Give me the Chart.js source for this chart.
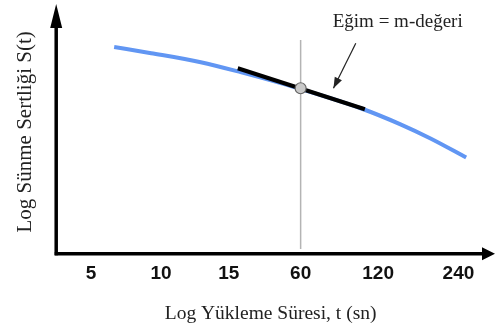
<!DOCTYPE html>
<html>
<head>
<meta charset="utf-8">
<script src="https://cdn.jsdelivr.net/npm/chart.js@4/dist/chart.umd.min.js"></script>
<style>
  html, body { margin: 0; padding: 0; background: #fff; }
  #wrap { width: 495px; height: 329px; }
</style>
</head>
<body>
<div id="wrap"><canvas id="creepChart"></canvas></div>
<script>
// Schematic log-log creep stiffness curve (x positions are schematic)
const xTickLabels = ['5', '10', '15', '60', '120', '240'];
const xTickPos = [0, 1, 1.97, 3, 4.11, 5.26];

const curveX = [0.33, 0.86, 1.57, 2.14, 3.0, 3.86, 4.43, 4.86, 5.37];
const curveY = [84.8, 82.3, 78.6, 74.5, 67.6, 59.7, 53.1, 47.3, 39.5];

const tangentX = [2.1, 3.92];
const tangentY = [76.1, 59.3];

const markX = [3];
const markY = [67.9];

const guideX = [3, 3];
const guideY = [2, 87.7];

const arrowX = [3.79, 3.47];
const arrowY = [86.4, 67.9];

const noteText = 'Eğim = m-değeri';
const notePos = [4.39, 95];

function pts(xs, ys) {
    return xs.map((x, i) => ({ x: x, y: ys[i] }));
}

// axes with arrow heads, note text, arrow head on the pointer line
const decorPlugin = {
    id: 'decor',
    afterDatasetsDraw(chart) {
        const ctx = chart.ctx;
        const a = chart.chartArea;
        const xs = chart.scales.x, ys = chart.scales.y;
        ctx.save();
        ctx.strokeStyle = '#000';
        ctx.fillStyle = '#000';
        ctx.lineWidth = 3.5;
        // y axis
        ctx.beginPath();
        ctx.moveTo(a.left, a.bottom + 1.5);
        ctx.lineTo(a.left, a.top + 10);
        ctx.stroke();
        ctx.beginPath();
        ctx.moveTo(a.left, a.top - 6);
        ctx.lineTo(a.left - 6, a.top + 18);
        ctx.lineTo(a.left + 6, a.top + 18);
        ctx.closePath();
        ctx.fill();
        // x axis
        ctx.beginPath();
        ctx.moveTo(a.left - 1.5, a.bottom);
        ctx.lineTo(a.right, a.bottom);
        ctx.stroke();
        ctx.beginPath();
        ctx.moveTo(a.right + 10, a.bottom);
        ctx.lineTo(a.right - 3, a.bottom - 6.5);
        ctx.lineTo(a.right - 3, a.bottom + 6.5);
        ctx.closePath();
        ctx.fill();

        // pointer arrow head
        const meta = chart.getDatasetMeta(4);
        const p0 = meta.data[0], p1 = meta.data[1];
        const ang = Math.atan2(p1.y - p0.y, p1.x - p0.x);
        ctx.fillStyle = '#222';
        ctx.beginPath();
        ctx.moveTo(p1.x, p1.y);
        ctx.lineTo(p1.x - 11 * Math.cos(ang) + 4 * Math.sin(ang), p1.y - 11 * Math.sin(ang) - 4 * Math.cos(ang));
        ctx.lineTo(p1.x - 11 * Math.cos(ang) - 4 * Math.sin(ang), p1.y - 11 * Math.sin(ang) + 4 * Math.cos(ang));
        ctx.closePath();
        ctx.fill();

        // note
        ctx.fillStyle = '#222';
        ctx.font = '19px "Liberation Serif"';
        ctx.textAlign = 'center';
        ctx.textBaseline = 'middle';
        ctx.fillText(noteText, xs.getPixelForValue(notePos[0]), ys.getPixelForValue(notePos[1]));
        ctx.restore();
    }
};

const ctx = document.getElementById('creepChart').getContext('2d');
const creepChart = new Chart(ctx, {
    type: 'scatter',
    data: {
        datasets: [
            {
                label: 'guide',
                data: pts(guideX, guideY),
                showLine: true,
                borderColor: '#b4b4b4',
                borderWidth: 1.5,
                pointRadius: 0,
                order: 5
            },
            {
                label: 'curve',
                data: pts(curveX, curveY),
                showLine: true,
                borderColor: '#6196f3',
                borderWidth: 4,
                cubicInterpolationMode: 'monotone',
                pointRadius: 0,
                order: 4
            },
            {
                label: 'tangent',
                data: pts(tangentX, tangentY),
                showLine: true,
                borderColor: '#000',
                borderWidth: 4,
                pointRadius: 0,
                order: 3
            },
            {
                label: 'point',
                data: pts(markX, markY),
                pointRadius: 5.5,
                pointBackgroundColor: '#c9c9c9',
                pointBorderColor: '#666',
                pointBorderWidth: 1.2,
                order: 1
            },
            {
                label: 'pointer',
                data: pts(arrowX, arrowY),
                showLine: true,
                borderColor: '#222',
                borderWidth: 1.2,
                pointRadius: 0,
                order: 2
            }
        ]
    },
    options: {
        responsive: true,
        maintainAspectRatio: false,
        animation: false,
        layout: {
            padding: { left: 6, right: 10, top: 10, bottom: 1 }
        },
        plugins: {
            legend: { display: false },
            tooltip: { enabled: false }
        },
        scales: {
            x: {
                type: 'linear',
                min: -0.5,
                max: 5.64,
                border: { display: false },
                grid: { display: false, drawTicks: false },
                afterBuildTicks: function(scale) {
                    scale.ticks = xTickPos.map(v => ({ value: v }));
                },
                ticks: {
                    autoSkip: false,
                    maxRotation: 0,
                    padding: 9,
                    color: '#111',
                    font: { family: '"Liberation Sans"', size: 19, weight: 'bold' },
                    callback: function(value) {
                        const i = xTickPos.indexOf(value);
                        return i >= 0 ? xTickLabels[i] : '';
                    }
                },
                title: {
                    display: true,
                    text: 'Log Yükleme Süresi, t (sn)',
                    color: '#222',
                    font: { family: '"Liberation Serif"', size: 19.5 },
                    padding: { top: 8, bottom: 2 }
                }
            },
            y: {
                type: 'linear',
                min: 0,
                max: 100,
                border: { display: false },
                grid: { display: false, drawTicks: false },
                ticks: { display: false },
                title: {
                    display: true,
                    text: 'Log Sünme Sertliği S(t)',
                    color: '#222',
                    font: { family: '"Liberation Serif"', size: 21 },
                    padding: { top: 7, bottom: 18 }
                }
            }
        }
    },
    plugins: [decorPlugin]
});
</script>
</body>
</html>
